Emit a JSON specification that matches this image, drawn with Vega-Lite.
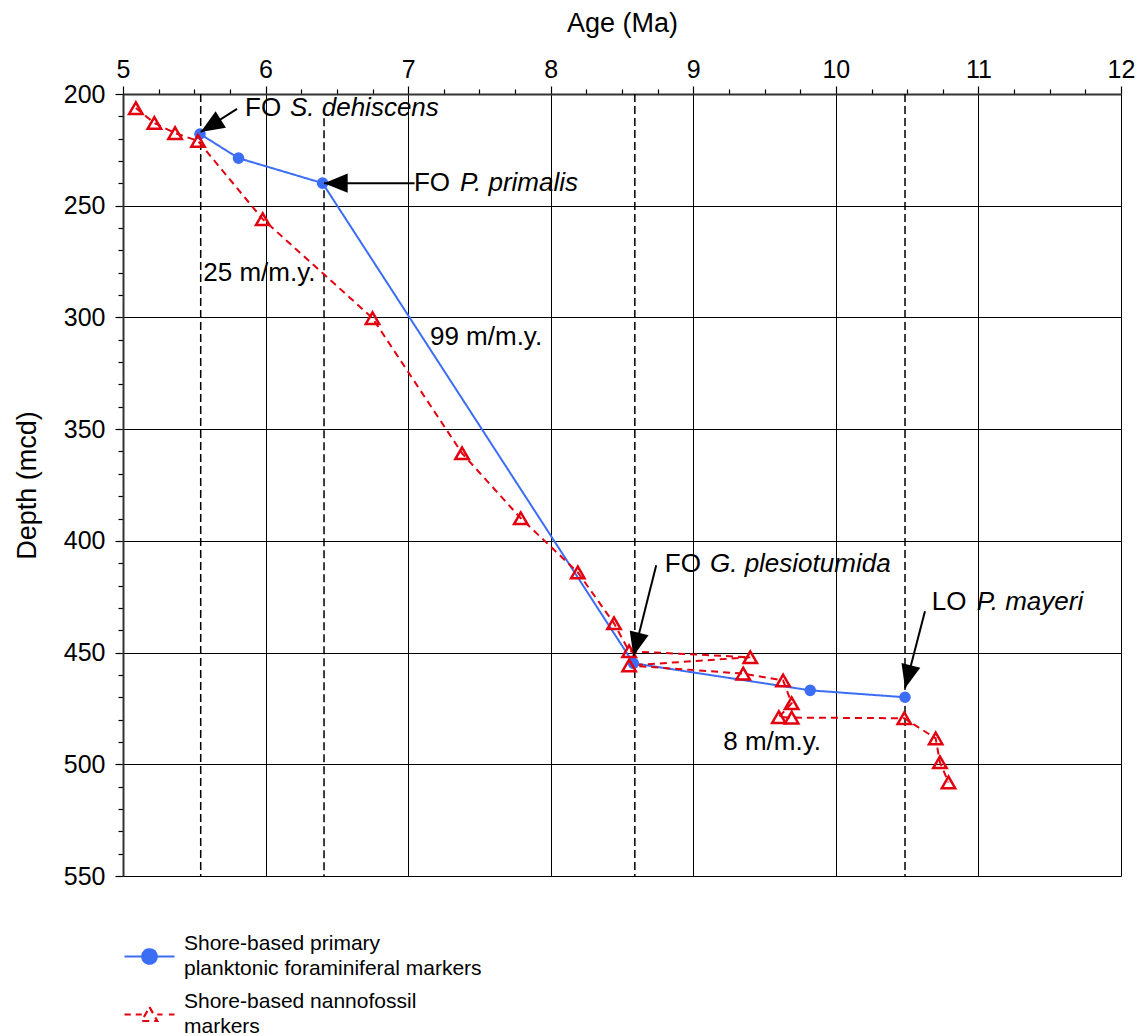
{
  "$schema": "https://vega.github.io/schema/vega-lite/v6.json",
  "width": 998,
  "height": 782,
  "autosize": "none",
  "padding": {"left": 123, "top": 94, "right": 22, "bottom": 160},
  "background": "white",
  "config": {"font": "Liberation Sans", "view": {"stroke": null}},
  "datasets": {
    "markers": [
      {"series": "Shore-based primary|planktonic foraminiferal markers", "age": 5.54, "depth": 217.9},
      {"series": "Shore-based primary|planktonic foraminiferal markers", "age": 5.81, "depth": 228.7},
      {"series": "Shore-based primary|planktonic foraminiferal markers", "age": 6.40, "depth": 239.9},
      {"series": "Shore-based primary|planktonic foraminiferal markers", "age": 8.58, "depth": 454.8},
      {"series": "Shore-based primary|planktonic foraminiferal markers", "age": 9.82, "depth": 466.9},
      {"series": "Shore-based primary|planktonic foraminiferal markers", "age": 10.485, "depth": 470.0},
      {"series": "Shore-based nannofossil|markers", "age": 5.09, "depth": 206.3},
      {"series": "Shore-based nannofossil|markers", "age": 5.22, "depth": 213.0},
      {"series": "Shore-based nannofossil|markers", "age": 5.365, "depth": 217.5},
      {"series": "Shore-based nannofossil|markers", "age": 5.526, "depth": 221.0},
      {"series": "Shore-based nannofossil|markers", "age": 5.98, "depth": 256.0},
      {"series": "Shore-based nannofossil|markers", "age": 6.75, "depth": 300.3},
      {"series": "Shore-based nannofossil|markers", "age": 7.378, "depth": 360.8},
      {"series": "Shore-based nannofossil|markers", "age": 7.79, "depth": 389.9},
      {"series": "Shore-based nannofossil|markers", "age": 8.19, "depth": 414.1},
      {"series": "Shore-based nannofossil|markers", "age": 8.444, "depth": 436.9},
      {"series": "Shore-based nannofossil|markers", "age": 8.55, "depth": 449.4},
      {"series": "Shore-based nannofossil|markers", "age": 9.40, "depth": 452.1},
      {"series": "Shore-based nannofossil|markers", "age": 8.55, "depth": 455.8},
      {"series": "Shore-based nannofossil|markers", "age": 9.35, "depth": 459.4},
      {"series": "Shore-based nannofossil|markers", "age": 9.63, "depth": 462.5},
      {"series": "Shore-based nannofossil|markers", "age": 9.69, "depth": 472.7},
      {"series": "Shore-based nannofossil|markers", "age": 9.60, "depth": 478.9},
      {"series": "Shore-based nannofossil|markers", "age": 9.69, "depth": 479.1},
      {"series": "Shore-based nannofossil|markers", "age": 10.48, "depth": 479.4},
      {"series": "Shore-based nannofossil|markers", "age": 10.70, "depth": 488.4},
      {"series": "Shore-based nannofossil|markers", "age": 10.73, "depth": 499.1},
      {"series": "Shore-based nannofossil|markers", "age": 10.79, "depth": 508.1}
    ],
    "datums": [
      {"age": 5.545, "top": 200, "bottom": 550},
      {"age": 6.41, "top": 210.9, "bottom": 550},
      {"age": 8.59, "top": 200, "bottom": 550},
      {"age": 10.485, "top": 200, "bottom": 550}
    ],
    "arrows": [
      {"age": 5.80, "depth": 206.7, "age2": 5.545, "depth2": 217.0, "angle": 238},
      {"age": 7.045, "depth": 239.9, "age2": 6.41, "depth2": 239.9, "angle": 270},
      {"age": 8.74, "depth": 410.9, "age2": 8.58, "depth2": 451.5, "angle": 194},
      {"age": 10.625, "depth": 431.5, "age2": 10.485, "depth2": 466.0, "angle": 194.5}
    ],
    "plainText": [
      {"age": 5.856, "depth": 206.4, "text": "FO"},
      {"age": 7.041, "depth": 239.9, "text": "FO"},
      {"age": 8.80, "depth": 410.2, "text": "FO"},
      {"age": 10.672, "depth": 427.4, "text": "LO"},
      {"age": 5.563, "depth": 280.3, "text": "25 m/m.y."},
      {"age": 7.153, "depth": 308.7, "text": "99 m/m.y."},
      {"age": 9.21, "depth": 490.1, "text": "8 m/m.y."}
    ],
    "italicText": [
      {"age": 6.171, "depth": 206.4, "text": "S. dehiscens"},
      {"age": 7.364, "depth": 239.9, "text": "P. primalis"},
      {"age": 9.117, "depth": 410.2, "text": "G. plesiotumida"},
      {"age": 10.988, "depth": 427.4, "text": "P. mayeri"}
    ]
  },
  "layer": [
    {
      "data": {"name": "datums"},
      "mark": {"type": "rule", "color": "black", "strokeWidth": 1.5, "strokeDash": [8, 4]},
      "encoding": {
        "x": {
          "field": "age", "type": "quantitative",
          "scale": {"domain": [5, 12], "nice": false, "zero": false},
          "axis": {
            "orient": "top", "title": "Age (Ma)", "tickCount": 100, "format": ".0f",
            "values": [5, 5.25, 5.5, 5.75, 6, 6.25, 6.5, 6.75, 7, 7.25, 7.5, 7.75, 8, 8.25, 8.5, 8.75, 9, 9.25, 9.5, 9.75, 10, 10.25, 10.5, 10.75, 11, 11.25, 11.5, 11.75, 12],
            "labelExpr": "datum.value % 1 === 0 ? datum.label : ''",
            "labelOverlap": false, "labelBound": false, "labelFlush": false,
            "grid": true, "gridColor": "black", "gridWidth": 1,
            "gridOpacity": {"condition": {"test": "datum.value % 1 === 0", "value": 1}, "value": 0},
            "tickSize": {"condition": {"test": "datum.value % 1 === 0", "value": 8}, "value": 5},
            "tickColor": "black", "tickWidth": 1.2,
            "domainColor": "#333333", "domainWidth": 2,
            "labelFontSize": 25, "labelColor": "black", "labelPadding": 4,
            "titleFontSize": 27, "titleFontWeight": "normal", "titleColor": "black", "titlePadding": 20
          }
        },
        "y": {
          "field": "top", "type": "quantitative",
          "scale": {"domain": [200, 550], "reverse": true, "nice": false, "zero": false},
          "axis": {
            "orient": "left", "title": "Depth (mcd)", "tickCount": 100, "format": ".0f",
            "values": [200, 210, 220, 230, 240, 250, 260, 270, 280, 290, 300, 310, 320, 330, 340, 350, 360, 370, 380, 390, 400, 410, 420, 430, 440, 450, 460, 470, 480, 490, 500, 510, 520, 530, 540, 550],
            "labelExpr": "datum.value % 50 === 0 ? datum.label : ''",
            "labelOverlap": false, "labelBound": false, "labelFlush": false,
            "grid": true, "gridColor": "black", "gridWidth": 1,
            "gridOpacity": {"condition": {"test": "datum.value % 50 === 0", "value": 1}, "value": 0},
            "tickSize": {"condition": {"test": "datum.value % 50 === 0", "value": 8}, "value": 5},
            "tickColor": "black", "tickWidth": 1.2,
            "domainColor": "#333333", "domainWidth": 2,
            "labelFontSize": 25, "labelColor": "black", "labelPadding": 10,
            "titleFontSize": 27, "titleFontWeight": "normal", "titleColor": "black", "titlePadding": 22
          }
        },
        "y2": {"field": "bottom"}
      }
    },
    {
      "data": {"name": "markers"},
      "mark": {"type": "line", "strokeWidth": 2},
      "encoding": {
        "x": {"field": "age", "type": "quantitative"},
        "y": {"field": "depth", "type": "quantitative"},
        "order": {"field": "depth", "type": "quantitative"},
        "strokeDash": {
          "field": "series", "type": "nominal", "legend": null,
          "scale": {"domain": ["Shore-based primary|planktonic foraminiferal markers", "Shore-based nannofossil|markers"], "range": [[1, 0], [7, 5]]}
        },
        "color": {
          "field": "series", "type": "nominal",
          "scale": {"domain": ["Shore-based primary|planktonic foraminiferal markers", "Shore-based nannofossil|markers"], "range": ["#3b6ef5", "#e3000f"]},
          "legend": {
            "orient": "none", "legendX": 0, "legendY": 836, "title": null,
            "padding": 0, "rowPadding": 9,
            "symbolSize": 2500, "symbolStrokeWidth": 2,
            "labelFontSize": 21, "labelColor": "black", "labelLimit": 600, "labelOffset": 8,
            "labelExpr": "split(datum.label, '|')",
            "encoding": {
              "symbols": {
                "shape": {"condition": {"test": "datum.index === 0", "value": "M-1,0H1M-0.29,0A0.29,0.29 0 1,1 0.29,0A0.29,0.29 0 1,1 -0.29,0Z"}, "value": "M-1,0H-0.75M-0.55,0H-0.31M0.31,0H0.52M0.78,0H1M0,-0.3L0.31,0.26L-0.31,0.26Z"},
                "fill": {"condition": {"test": "datum.index === 0", "value": "#3b6ef5"}, "value": "transparent"},
                "strokeDash": {"value": []},
                "strokeWidth": {"value": 2.2}
              },
              "labels": {"lineHeight": {"value": 25}, "dy": {"value": -12.5}}
            }
          }
        }
      }
    },
    {
      "data": {"name": "markers"},
      "transform": [{"filter": "datum.series === 'Shore-based primary|planktonic foraminiferal markers'"}],
      "mark": {"type": "point", "shape": "circle", "filled": true, "color": "#3b6ef5", "size": 135, "opacity": 1},
      "encoding": {
        "x": {"field": "age", "type": "quantitative"},
        "y": {"field": "depth", "type": "quantitative"}
      }
    },
    {
      "data": {"name": "markers"},
      "transform": [{"filter": "datum.series === 'Shore-based nannofossil|markers'"}],
      "mark": {"type": "point", "shape": "triangle-up", "filled": false, "color": "#e3000f", "strokeWidth": 2.5, "size": 180, "opacity": 1},
      "encoding": {
        "x": {"field": "age", "type": "quantitative"},
        "y": {"field": "depth", "type": "quantitative"}
      }
    },
    {
      "data": {"name": "arrows"},
      "mark": {"type": "rule", "color": "black", "strokeWidth": 2},
      "encoding": {
        "x": {"field": "age", "type": "quantitative"},
        "y": {"field": "depth", "type": "quantitative"},
        "x2": {"field": "age2"},
        "y2": {"field": "depth2"}
      }
    },
    {
      "data": {"name": "arrows"},
      "mark": {"type": "point", "shape": "M0,0L-0.82,2L0.82,2Z", "filled": true, "color": "black", "size": 560, "opacity": 1},
      "encoding": {
        "x": {"field": "age2", "type": "quantitative"},
        "y": {"field": "depth2", "type": "quantitative"},
        "angle": {"field": "angle", "type": "quantitative", "scale": null}
      }
    },
    {
      "data": {"name": "plainText"},
      "mark": {"type": "text", "align": "left", "baseline": "middle", "fontSize": 26, "color": "black"},
      "encoding": {
        "x": {"field": "age", "type": "quantitative"},
        "y": {"field": "depth", "type": "quantitative"},
        "text": {"field": "text"}
      }
    },
    {
      "data": {"name": "italicText"},
      "mark": {"type": "text", "align": "left", "baseline": "middle", "fontSize": 26, "fontStyle": "italic", "color": "black"},
      "encoding": {
        "x": {"field": "age", "type": "quantitative"},
        "y": {"field": "depth", "type": "quantitative"},
        "text": {"field": "text"}
      }
    }
  ]
}
